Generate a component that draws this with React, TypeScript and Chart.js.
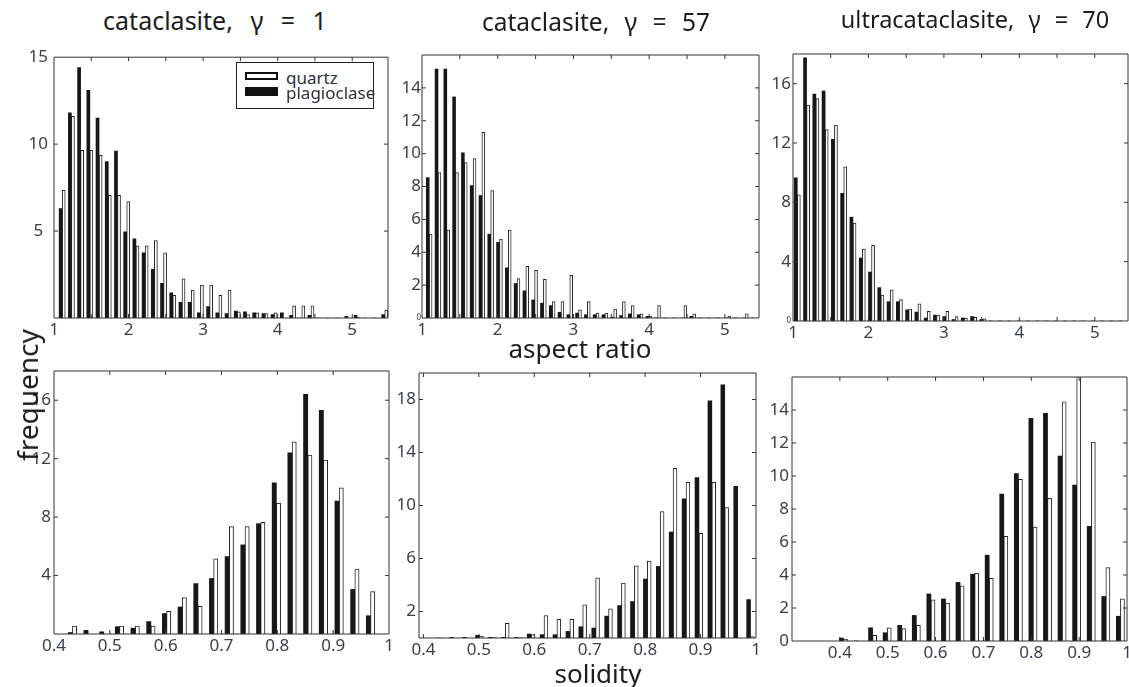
import { useEffect, useRef } from "react";
import { Chart, registerables } from "chart.js";

Chart.register(...registerables);

const FONT = "'Noto Sans', 'DejaVu Sans', sans-serif";
const INK = "#171717";
const TICK_INK = "#3b3d4a";

// ---------- aspect ratio histograms (counts per bin) ----------
// cataclasite, γ = 1
const aspectG1Start = 1.11;
const aspectG1Step = 0.1236;
const aspectG1Quartz = [7.35, 11.6, 9.65, 9.65, 9.35, 7.05, 7.05, 6.7, 4.15, 4.15, 4.45, 3.75, 1.3, 2.25, 1.6, 1.9, 1.9, 1.3, 1.6, 0.35, 0.2, 0.3, 0.25, 0.3, 0, 0.7, 0.7, 0.7, 0, 0, 0, 0, 0.05, 0, 0, 0.45];
const aspectG1Plag = [6.3, 11.8, 14.4, 13.1, 11.5, 9.0, 9.6, 4.95, 4.55, 3.75, 2.8, 2.0, 1.45, 0.9, 0.9, 0.3, 0.65, 0.3, 0.25, 0.4, 0.35, 0.3, 0.25, 0.2, 0.3, 0.15, 0, 0.15, 0, 0, 0, 0.1, 0.15, 0, 0, 0.2];

// cataclasite, γ = 57
const aspectG57Start = 1.095;
const aspectG57Step = 0.116;
const aspectG57Quartz = [5.1, 8.85, 5.35, 8.85, 9.45, 9.7, 11.3, 7.75, 4.8, 5.35, 2.4, 3.15, 2.9, 2.35, 1.0, 1.0, 2.6, 0.5, 1.0, 0.3, 0.3, 0.55, 1.0, 0.75, 0.25, 0.1, 0.75, 0, 0, 0.75, 0.25, 0, 0, 0, 0.1, 0, 0.25, 0];
const aspectG57Plag = [8.55, 15.15, 15.15, 13.45, 10.05, 8.05, 7.45, 5.1, 4.6, 3.05, 2.1, 1.65, 1.1, 0.9, 0.75, 0.35, 0.2, 0.3, 0.2, 0.2, 0.2, 0.05, 0.15, 0.25, 0.2, 0.1, 0, 0, 0, 0, 0.1, 0, 0, 0, 0, 0, 0, 0];

// ultracataclasite, γ = 70
const aspectG70Start = 1.057;
const aspectG70Step = 0.123;
const aspectG70Quartz = [8.5, 14.55, 15.0, 12.9, 13.2, 10.4, 6.6, 4.85, 5.1, 1.75, 2.1, 1.45, 0.8, 1.15, 0.65, 0.4, 0.65, 0.3, 0.2, 0.25, 0.15, 0, 0, 0, 0, 0, 0, 0, 0, 0, 0, 0, 0, 0, 0, 0];
const aspectG70Plag = [9.65, 17.75, 15.3, 15.5, 12.25, 8.6, 7.0, 4.25, 3.3, 2.25, 1.3, 1.3, 0.75, 0.6, 0.2, 0.4, 0.3, 0.1, 0.2, 0.3, 0.1, 0, 0, 0, 0, 0, 0, 0, 0, 0, 0, 0, 0, 0, 0, 0];

// ---------- solidity histograms (counts per bin) ----------
const solidityG1Start = 0.433;
const solidityG1Step = 0.0281;
const solidityG1Quartz = [0.55, 0, 0, 0.55, 0.55, 0.55, 1.55, 2.5, 1.9, 5.15, 7.35, 7.35, 7.65, 8.95, 13.15, 12.25, 11.9, 10.0, 4.45, 2.9];
const solidityG1Plag = [0.1, 0.25, 0.15, 0.5, 0.4, 0.85, 1.4, 1.85, 3.45, 3.8, 5.3, 6.1, 7.55, 10.35, 12.4, 16.4, 15.3, 9.1, 3.05, 1.25];

const solidityG57Start = 0.4312;
const solidityG57Step = 0.02329;
const solidityG57Quartz = [0, 0, 0, 0.15, 0.05, 1.1, 0.05, 0.25, 1.7, 1.4, 1.4, 2.5, 4.55, 2.2, 4.15, 5.45, 5.8, 9.55, 12.8, 11.75, 7.9, 11.75, 9.85, 0, 0.1];
const solidityG57Plag = [0, 0.05, 0.05, 0.2, 0.05, 0.05, 0.05, 0.3, 0.25, 0.25, 0.5, 0.85, 0.75, 1.65, 2.45, 2.75, 4.45, 5.4, 8.0, 10.5, 12.1, 17.9, 19.1, 11.45, 2.9];

const solidityG70Start = 0.4075;
const solidityG70Step = 0.03046;
const solidityG70Quartz = [0.1, 0, 0.35, 0.8, 0.75, 0.95, 2.5, 2.3, 3.35, 4.1, 3.8, 6.35, 9.8, 6.9, 8.65, 14.5, 17.5, 12.05, 4.45, 2.55];
const solidityG70Plag = [0.18, 0, 0.8, 0.5, 0.95, 1.55, 2.85, 2.55, 3.55, 4.05, 5.2, 8.9, 10.15, 13.5, 13.8, 11.2, 9.45, 6.95, 2.7, 1.5];

// ---------- axis ticks ----------
const aspectTicks = [1, 1.5, 2, 2.5, 3, 3.5, 4, 4.5, 5];
const solidityTicks = [0.3, 0.4, 0.5, 0.6, 0.7, 0.8, 0.9, 1.0];
const countTicksG1Top = [0, 5, 10, 15];
const countTicksG57Top = [0, 2, 4, 6, 8, 10, 12, 14, 16];
const countTicksG70Top = [0, 4, 8, 12, 16];
const countTicksG1Bottom = [0, 4, 8, 12, 16];
const countTicksG57Bottom = [2, 6, 10, 14, 18];
const countTicksG70Bottom = [0, 2, 4, 6, 8, 10, 12, 14, 16];

type Area = { l: number; t: number; r: number; b: number };

type PanelSpec = {
  area: Area;
  xMin: number;
  xMax: number;
  xTicks: number[];
  xLabel: (v: number) => string;
  yMax: number;
  yTicks: number[];
  yLabel: (v: number) => string;
  tinyZero?: boolean;
  yAlign: "near" | "center";
  yPad: number;
  start: number;
  step: number;
  quartz: number[];
  plag: number[];
  barFrac: number;
};

const PL = 46; // room for the count labels
const PR = 14;
const PT = 14;
const PB = 30; // room for the x labels
const TICK_SIZE = 17;

const aspectLabel = (v: number) => (Math.abs(v - Math.round(v)) < 1e-6 ? String(Math.round(v)) : "");
const solidityLabel = (v: number) => {
  if (v < 0.35) return "";
  if (v > 0.99) return "1";
  return v.toFixed(1);
};
const showOnly = (vals: number[]) => (v: number) => (vals.some((s) => Math.abs(s - v) < 1e-6) ? String(v) : "");

const panels: PanelSpec[] = [
  {
    area: { l: 54, t: 55, r: 388, b: 318 },
    xMin: 1, xMax: 5.48, xTicks: aspectTicks, xLabel: aspectLabel,
    yMax: 15, yTicks: countTicksG1Top, yLabel: showOnly([5, 10, 15]),
    yAlign: "center", yPad: 6,
    start: aspectG1Start, step: aspectG1Step, quartz: aspectG1Quartz, plag: aspectG1Plag, barFrac: 0.33,
  },
  {
    area: { l: 421.5, t: 55, r: 758, b: 318.3 },
    xMin: 1, xMax: 5.45, xTicks: aspectTicks, xLabel: aspectLabel,
    yMax: 16, yTicks: countTicksG57Top, yLabel: showOnly([0, 2, 4, 6, 8, 10, 12, 14]), tinyZero: true,
    yAlign: "near", yPad: 1,
    start: aspectG57Start, step: aspectG57Step, quartz: aspectG57Quartz, plag: aspectG57Plag, barFrac: 0.33,
  },
  {
    area: { l: 792.5, t: 54.3, r: 1127, b: 321 },
    xMin: 1, xMax: 5.44, xTicks: aspectTicks, xLabel: aspectLabel,
    yMax: 18, yTicks: countTicksG70Top, yLabel: showOnly([0, 4, 8, 12, 16]), tinyZero: true,
    yAlign: "near", yPad: 2,
    start: aspectG70Start, step: aspectG70Step, quartz: aspectG70Quartz, plag: aspectG70Plag, barFrac: 0.33,
  },
  {
    area: { l: 54.3, t: 370.7, r: 389.3, b: 633.3 },
    xMin: 0.4, xMax: 1.0, xTicks: solidityTicks.slice(1), xLabel: solidityLabel,
    yMax: 18, yTicks: countTicksG1Bottom, yLabel: showOnly([4, 8, 12, 16]),
    yAlign: "near", yPad: 3,
    start: solidityG1Start, step: solidityG1Step, quartz: solidityG1Quartz, plag: solidityG1Plag, barFrac: 0.27,
  },
  {
    area: { l: 419.3, t: 372.7, r: 756, b: 637.5 },
    xMin: 0.392, xMax: 1.0, xTicks: solidityTicks.slice(1), xLabel: solidityLabel,
    yMax: 20, yTicks: countTicksG57Bottom, yLabel: showOnly(countTicksG57Bottom),
    yAlign: "near", yPad: 3,
    start: solidityG57Start, step: solidityG57Step, quartz: solidityG57Quartz, plag: solidityG57Plag, barFrac: 0.3,
  },
  {
    area: { l: 792.3, t: 377.3, r: 1127, b: 641.7 },
    xMin: 0.3, xMax: 1.0, xTicks: solidityTicks, xLabel: solidityLabel,
    yMax: 16, yTicks: countTicksG70Bottom, yLabel: showOnly([0, 2, 4, 6, 8, 10, 12, 14]),
    yAlign: "near", yPad: 3,
    start: solidityG70Start, step: solidityG70Step, quartz: solidityG70Quartz, plag: solidityG70Plag, barFrac: 0.28,
  },
];

// Box around the plot area with inward tick marks on all four sides.
const framePlugin = {
  id: "frame",
  afterDatasetsDraw(chart: any) {
    const { ctx, chartArea: a, scales } = chart;
    const len = 4;
    ctx.save();
    ctx.strokeStyle = "#333333";
    ctx.lineWidth = 1;
    ctx.beginPath();
    ctx.rect(a.left, a.top, a.right - a.left, a.bottom - a.top);
    for (const t of scales.x.ticks) {
      const px = scales.x.getPixelForValue(t.value);
      if (px <= a.left + 0.5 || px >= a.right - 0.5) continue;
      ctx.moveTo(px, a.top);
      ctx.lineTo(px, a.top + len);
      ctx.moveTo(px, a.bottom);
      ctx.lineTo(px, a.bottom - len);
    }
    for (const t of scales.y.ticks) {
      const py = scales.y.getPixelForValue(t.value);
      if (py <= a.top + 0.5 || py >= a.bottom - 0.5) continue;
      ctx.moveTo(a.left, py);
      ctx.lineTo(a.left + len, py);
      ctx.moveTo(a.right, py);
      ctx.lineTo(a.right - len, py);
    }
    ctx.stroke();
    ctx.restore();
  },
};

function HistPanel({ spec }: { spec: PanelSpec }) {
  const ref = useRef<HTMLCanvasElement | null>(null);
  const { area } = spec;
  const width = Math.round(area.r - area.l) + PL + PR;
  const height = Math.round(area.b - area.t) + PT + PB;

  useEffect(() => {
    if (!ref.current) return;
    const centres = spec.plag.map((_, i) => spec.start + i * spec.step);
    const half = (spec.step * spec.barFrac) / 2;
    const common = {
      grouped: false,
      barPercentage: 1,
      categoryPercentage: 1,
      clip: 0,
    };
    const chart = new Chart(ref.current, {
      type: "bar",
      data: {
        datasets: [
          {
            label: "plagioclase",
            data: centres.map((c, i) => ({ x: c - half, y: spec.plag[i] })),
            backgroundColor: INK,
            borderWidth: 0,
            ...common,
          },
          {
            label: "quartz",
            data: centres.map((c, i) => ({ x: c + half, y: spec.quartz[i] })),
            backgroundColor: "#ffffff",
            borderColor: "#242424",
            borderWidth: 1,
            ...common,
          },
        ],
      } as any,
      options: {
        animation: false,
        responsive: false,
        maintainAspectRatio: false,
        events: [],
        layout: { padding: { top: PT, right: PR, left: 0, bottom: 0 } },
        plugins: {
          legend: { display: false },
          tooltip: { enabled: false },
          title: { display: false },
        },
        scales: {
          x: {
            type: "linear",
            offset: false,
            min: spec.xMin,
            max: spec.xMax,
            afterBuildTicks: (s: any) => {
              s.ticks = spec.xTicks.map((v) => ({ value: v }));
            },
            afterFit: (s: any) => {
              s.height = PB;
            },
            grid: { display: false, drawTicks: false, offset: false },
            border: { display: false },
            ticks: {
              autoSkip: false,
              maxRotation: 0,
              padding: 2,
              color: TICK_INK,
              font: { family: FONT, size: TICK_SIZE },
              callback: (v: any) => spec.xLabel(Number(v)),
            },
          },
          y: {
            type: "linear",
            min: 0,
            max: spec.yMax,
            afterBuildTicks: (s: any) => {
              s.ticks = spec.yTicks.map((v) => ({ value: v }));
            },
            afterFit: (s: any) => {
              s.width = PL;
            },
            grid: { display: false, drawTicks: false },
            border: { display: false },
            ticks: {
              autoSkip: false,
              padding: spec.yPad,
              crossAlign: spec.yAlign,
              color: TICK_INK,
              font: (ctx: any) => ({
                family: FONT,
                size: spec.tinyZero && ctx.tick && ctx.tick.value === 0 ? 8 : TICK_SIZE,
              }),
              callback: (v: any) => spec.yLabel(Number(v)),
            },
          },
        },
      } as any,
      plugins: [framePlugin],
    });
    return () => chart.destroy();
  }, [spec]);

  return (
    <canvas
      ref={ref}
      width={width}
      height={height}
      style={{
        position: "absolute",
        left: Math.round(area.l) - PL,
        top: Math.round(area.t) - PT,
        width,
        height,
      }}
    />
  );
}

const textStyle = (x: number, y: number, size: number, extra: any = {}) => ({
  position: "absolute" as const,
  left: x,
  top: y,
  transform: "translate(-50%, -50%)" + (extra.rotate ? ` rotate(${extra.rotate}deg)` : ""),
  fontFamily: FONT,
  fontSize: size,
  color: "#1c1c1c",
  whiteSpace: "pre" as const,
  lineHeight: 1,
  wordSpacing: extra.wordSpacing || 0,
});

export default function App() {
  return (
    <div
      style={{
        position: "fixed",
        left: 0,
        top: 0,
        width: 1129,
        height: 687,
        overflow: "hidden",
        background: "#ffffff",
      }}
    >
      {panels.map((p, i) => (
        <HistPanel key={i} spec={p} />
      ))}

      <div style={textStyle(215, 20, 25, { wordSpacing: 11 })}>cataclasite, γ = 1</div>
      <div style={textStyle(596, 22, 24.5, { wordSpacing: 9 })}>cataclasite, γ = 57</div>
      <div style={textStyle(975, 20, 23.5, { wordSpacing: 8 })}>ultracataclasite, γ = 70</div>
      <div style={textStyle(580, 348, 26)}>aspect ratio</div>
      <div style={textStyle(598, 673, 26)}>solidity</div>
      <div style={textStyle(27, 395, 28, { rotate: -90 })}>frequency</div>

      {/* legend */}
      <div
        style={{
          position: "absolute",
          left: 236,
          top: 62,
          width: 138,
          height: 47,
          boxSizing: "border-box",
          border: "1px solid #222",
          background: "#fff",
        }}
      />
      <div
        style={{
          position: "absolute",
          left: 245,
          top: 72,
          width: 33,
          height: 8,
          boxSizing: "border-box",
          border: "2.5px solid #111",
          background: "#fff",
        }}
      />
      <div style={{ position: "absolute", left: 245, top: 87, width: 33, height: 9, background: "#111" }} />
      <div
        style={{
          position: "absolute",
          left: 286,
          top: 77,
          transform: "translateY(-50%)",
          fontFamily: FONT,
          fontSize: 17,
          lineHeight: 1,
          color: "#2c2e3c",
        }}
      >
        quartz
      </div>
      <div
        style={{
          position: "absolute",
          left: 286,
          top: 92,
          transform: "translateY(-50%)",
          fontFamily: FONT,
          fontSize: 17,
          lineHeight: 1,
          color: "#2c2e3c",
        }}
      >
        plagioclase
      </div>
    </div>
  );
}
